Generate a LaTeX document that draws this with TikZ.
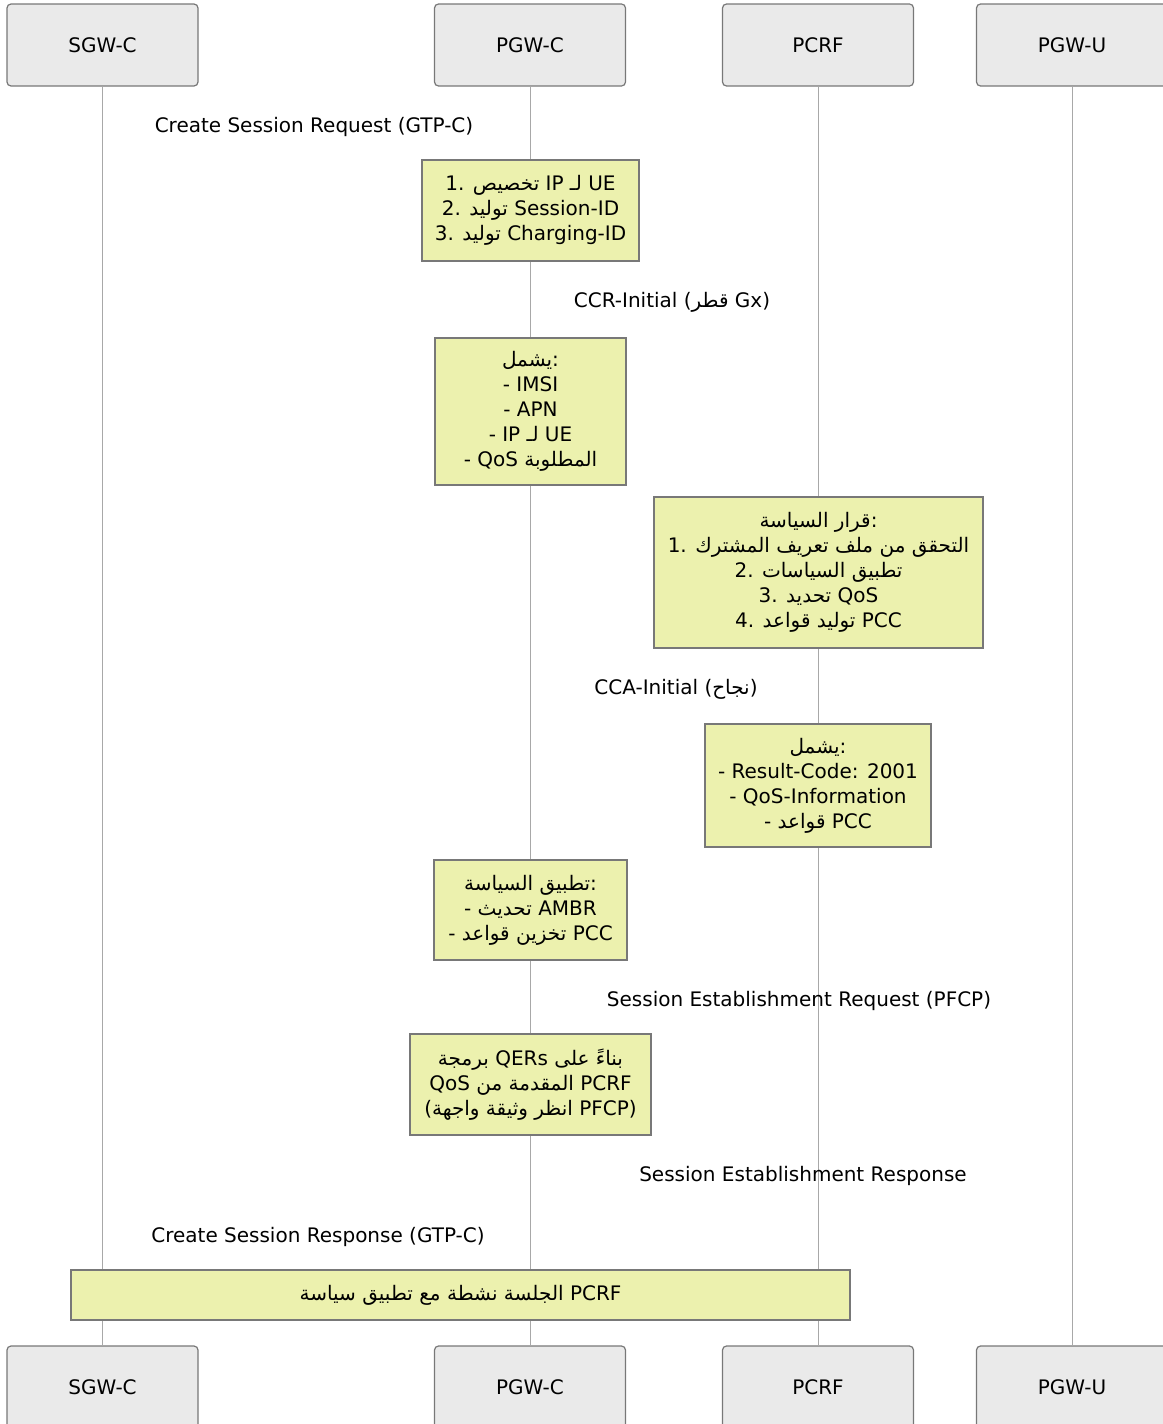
\documentclass[tikz,border=0pt]{standalone}
\usepackage{fontspec}
\setmainfont{DejaVu Sans}
\newfontfamily\arabicfont[Script=Arabic]{DejaVu Sans}
\TeXXeTstate=1
\newcommand{\artxt}[1]{{\arabicfont\beginR #1\endR}}

\definecolor{actorfill}{RGB}{234,234,234}
\definecolor{actorline}{RGB}{120,120,120}
\definecolor{notefill}{RGB}{236,241,174}
\definecolor{lifegray}{RGB}{168,168,168}

\begin{document}
\begin{tikzpicture}[
  x=1pt, y=-1pt,
  actor/.style={draw=actorline, line width=1.2pt, fill=actorfill, rounded corners=4pt,
    minimum width=191pt, minimum height=82pt, font=\fontsize{20}{25}\selectfont},
  notebox/.style={draw=actorline, line width=1.2pt, fill=notefill, align=center,
    inner sep=0pt, font=\fontsize{20}{25}\selectfont},
  msglabel/.style={anchor=base, inner sep=0pt, font=\fontsize{20}{25}\selectfont},
  lifeline/.style={draw=lifegray, line width=1pt}
]
\useasboundingbox[fill=white] (0,0) rectangle (1162,1424);

% Participants (top)
\node[actor] (sgwTop) at (102.5,45) {SGW-C};
\node[actor] (pgwcTop) at (530,45) {PGW-C};
\node[actor] (pcrfTop) at (818,45) {PCRF};
\node[actor] (pgwuTop) at (1072,45) {PGW-U};

% Participants (bottom)
\node[actor] (sgwBot) at (102.5,1387) {SGW-C};
\node[actor] (pgwcBot) at (530,1387) {PGW-C};
\node[actor] (pcrfBot) at (818,1387) {PCRF};
\node[actor] (pgwuBot) at (1072,1387) {PGW-U};

% Lifelines
\draw[lifeline] (sgwTop.south) -- (sgwBot.north);
\draw[lifeline] (pgwcTop.south) -- (pgwcBot.north);
\draw[lifeline] (pcrfTop.south) -- (pcrfBot.north);
\draw[lifeline] (pgwuTop.south) -- (pgwuBot.north);

% Create Session Request
\node[msglabel] (csreq) at (314,132) {Create Session Request (GTP-C)};

\node[notebox, minimum width=217pt, minimum height=101pt] (alloc) at (530.5,210.5)
  {1. \artxt{تخصيص} IP \artxt{لـ} UE\\
   2. \artxt{توليد} Session-ID\\
   3. \artxt{توليد} Charging-ID};

% Gx: CCR-Initial
\node[msglabel] (ccri) at (672,307) {CCR-Initial (\artxt{قطر} Gx)};

\node[notebox, minimum width=191pt, minimum height=147pt] (ccrinfo) at (530.5,411.5)
  {\artxt{يشمل}:\\
   - IMSI\\
   - APN\\
   - IP \artxt{لـ} UE\\
   - QoS \artxt{المطلوبة}};

% PCRF policy decision
\node[notebox, minimum width=329pt, minimum height=151pt] (decision) at (818.5,572.5)
  {\artxt{قرار السياسة}:\\
   1. \artxt{التحقق من ملف تعريف المشترك}\\
   2. \artxt{تطبيق السياسات}\\
   3. \artxt{تحديد} QoS\\
   4. \artxt{توليد قواعد} PCC};

% Gx: CCA-Initial
\node[msglabel] (ccai) at (676,694) {CCA-Initial (\artxt{نجاح})};

\node[notebox, minimum width=226pt, minimum height=123pt] (ccainfo) at (818,785.5)
  {\artxt{يشمل}:\\
   - Result-Code: 2001\\
   - QoS-Information\\
   - \artxt{قواعد} PCC};

\node[notebox, minimum width=193pt, minimum height=100pt] (apply) at (530.5,910)
  {\artxt{تطبيق السياسة}:\\
   - \artxt{تحديث} AMBR\\
   - \artxt{تخزين قواعد} PCC};

% PFCP towards PGW-U
\node[msglabel] (sereq) at (799,1006) {Session Establishment Request (PFCP)};

\node[notebox, minimum width=241pt, minimum height=101pt] (qers) at (530.5,1084.5)
  {\artxt{برمجة} QERs \artxt{بناءً على}\\
   QoS \artxt{المقدمة من} PCRF\\
   (\artxt{انظر وثيقة واجهة} PFCP)};

\node[msglabel] (seresp) at (803,1181) {Session Establishment Response};

% Create Session Response
\node[msglabel] (csresp) at (318,1242) {Create Session Response (GTP-C)};

\node[notebox, minimum width=779pt, minimum height=50pt] (active) at (460.5,1295)
  {\artxt{الجلسة نشطة مع تطبيق سياسة} PCRF};

\end{tikzpicture}
\end{document}
